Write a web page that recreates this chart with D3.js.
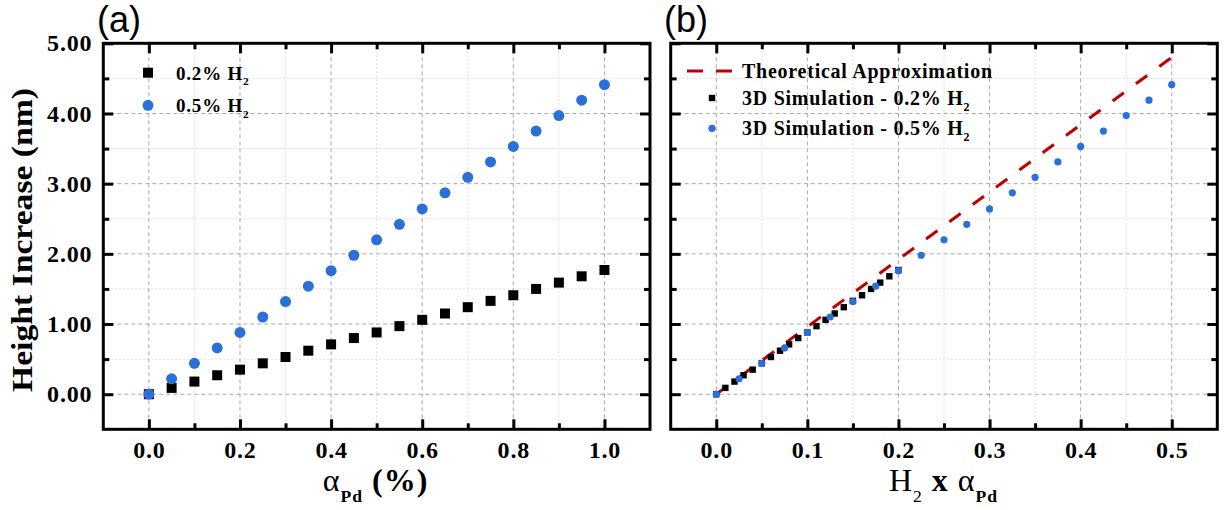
<!DOCTYPE html>
<html>
<head>
<meta charset="utf-8">
<script src="https://cdn.jsdelivr.net/npm/d3@7"></script>
<style>
  html, body { margin: 0; padding: 0; background: #fff; }
  svg { display: block; }
  .tick text { font-family: "Liberation Serif", "Times New Roman", serif; font-weight: bold; letter-spacing: 0.8px; }
</style>
</head>
<body>
<svg id="chart" width="1225" height="510"></svg>
<script>
// Pd loading (alpha_Pd, %) for every simulated point
const alphaPd = [0.00, 0.05, 0.10, 0.15, 0.20, 0.25, 0.30, 0.35, 0.40, 0.45, 0.50,
                 0.55, 0.60, 0.65, 0.70, 0.75, 0.80, 0.85, 0.90, 0.95, 1.00];
// height increase (nm) at 0.2% H2
const heightLow = [0.00, 0.09, 0.18, 0.27, 0.35, 0.44, 0.53, 0.62, 0.71, 0.80, 0.88,
                   0.97, 1.06, 1.15, 1.24, 1.33, 1.41, 1.50, 1.59, 1.68, 1.77];
// height increase (nm) at 0.5% H2
const heightHigh = [0.00, 0.22, 0.44, 0.66, 0.88, 1.10, 1.32, 1.54, 1.76, 1.98, 2.20,
                    2.42, 2.64, 2.87, 3.09, 3.31, 3.53, 3.75, 3.97, 4.19, 4.41];
// hydrogen concentrations (%) of the two series
const h2Low = 0.2;
const h2High = 0.5;
// theoretical approximation: end points of the straight line
const theoryX = [0.0, 0.5];
const theoryY = [0.0, 4.8];

// tick values
const yMajor = [0, 1, 2, 3, 4, 5];
const yMinor = [0.5, 1.5, 2.5, 3.5, 4.5];
const xMajorA = [0.0, 0.2, 0.4, 0.6, 0.8, 1.0];
const xMinorA = [0.1, 0.3, 0.5, 0.7, 0.9];
const xMajorB = [0.0, 0.1, 0.2, 0.3, 0.4, 0.5];
const xMinorB = [0.05, 0.15, 0.25, 0.35, 0.45];

const BLUE = "#2b6fd9";
const RED = "#c00000";
const SERIF = '"Liberation Serif", "Times New Roman", serif';

const svg = d3.select("#chart");
svg.append("rect").attr("width", 1225).attr("height", 510).attr("fill", "#fff");

const plotTop = 43.3, plotBottom = 429.3;
const y = d3.scaleLinear().domain([-0.5, 5.0]).range([plotBottom, plotTop]);
const xA = d3.scaleLinear().domain([-0.1, 1.1]).range([103.3, 650]);
const xB = d3.scaleLinear().domain([-0.05, 0.55]).range([670.7, 1217.3]);

function grid(g, x, xMajor, xMinor) {
  const [x0, x1] = x.range();
  const gg = g.append("g");
  // minor grid
  gg.selectAll(".vmin").data(xMinor).join("line")
    .attr("x1", d => x(d)).attr("x2", d => x(d)).attr("y1", plotTop).attr("y2", plotBottom)
    .attr("stroke", "#dcdcdc").attr("stroke-width", 1).attr("stroke-dasharray", "2,2");
  gg.selectAll(".hmin").data(yMinor).join("line")
    .attr("x1", x0).attr("x2", x1).attr("y1", d => y(d)).attr("y2", d => y(d))
    .attr("stroke", "#dcdcdc").attr("stroke-width", 1).attr("stroke-dasharray", "2,2");
  // major grid
  gg.selectAll(".vmaj").data(xMajor).join("line")
    .attr("x1", d => x(d)).attr("x2", d => x(d)).attr("y1", plotTop).attr("y2", plotBottom)
    .attr("stroke", "#a8a8a8").attr("stroke-width", 1).attr("stroke-dasharray", "4,3");
  gg.selectAll(".hmaj").data(yMajor.filter(v => v < 5)).join("line")
    .attr("x1", x0).attr("x2", x1).attr("y1", d => y(d)).attr("y2", d => y(d))
    .attr("stroke", "#a8a8a8").attr("stroke-width", 1).attr("stroke-dasharray", "4,3");
}

function frame(g, x, xMajor, xMinor, showY, xFmt) {
  const [x0, x1] = x.range();
  const style = sel => {
    sel.select(".domain").remove();
    sel.selectAll(".tick line").attr("stroke", "#000").attr("stroke-width", 3);
  };
  // bottom
  g.append("g").attr("transform", `translate(0,${plotBottom})`)
    .call(d3.axisBottom(x).tickValues(xMajor).tickSize(-10).tickPadding(12).tickFormat(d3.format(xFmt)))
    .call(style)
    .call(s => s.selectAll("text").attr("font-size", 24).attr("fill", "#000"));
  g.append("g").attr("transform", `translate(0,${plotBottom})`)
    .call(d3.axisBottom(x).tickValues(xMinor).tickSize(-6).tickFormat(""))
    .call(style);
  // top
  g.append("g").attr("transform", `translate(0,${plotTop})`)
    .call(d3.axisTop(x).tickValues(xMajor).tickSize(-10).tickFormat("")).call(style);
  g.append("g").attr("transform", `translate(0,${plotTop})`)
    .call(d3.axisTop(x).tickValues(xMinor).tickSize(-6).tickFormat("")).call(style);
  // left
  g.append("g").attr("transform", `translate(${x0},0)`)
    .call(d3.axisLeft(y).tickValues(yMajor).tickSize(-10).tickPadding(11)
      .tickFormat(showY ? d3.format(".2f") : ""))
    .call(style)
    .call(s => s.selectAll("text").attr("font-size", 24).attr("fill", "#000"));
  g.append("g").attr("transform", `translate(${x0},0)`)
    .call(d3.axisLeft(y).tickValues(yMinor).tickSize(-6).tickFormat("")).call(style);
  // right
  g.append("g").attr("transform", `translate(${x1},0)`)
    .call(d3.axisRight(y).tickValues(yMajor).tickSize(-10).tickFormat("")).call(style);
  g.append("g").attr("transform", `translate(${x1},0)`)
    .call(d3.axisRight(y).tickValues(yMinor).tickSize(-6).tickFormat("")).call(style);
  // box
  g.append("rect").attr("x", x0).attr("y", plotTop).attr("width", x1 - x0).attr("height", plotBottom - plotTop)
    .attr("fill", "none").attr("stroke", "#000").attr("stroke-width", 3);
}

// text with subscript parts: parts = [[text, isSub, weight], ...]
function richText(g, xPos, yPos, parts, size, opts) {
  const o = Object.assign({ anchor: "start", sub: 0.6, shift: 0.3, spacing: 0 }, opts || {});
  const t = g.append("text").attr("x", xPos).attr("y", yPos)
    .attr("font-family", SERIF).attr("font-weight", "bold").attr("font-size", size)
    .attr("letter-spacing", o.spacing)
    .attr("text-anchor", o.anchor).attr("fill", "#000");
  const shift = size * o.shift;
  parts.forEach(([s, sub, weight], i) => {
    const ts = t.append("tspan").text(s);
    if (weight) ts.attr("font-weight", weight);
    const prevSub = i > 0 && parts[i - 1][1];
    if (sub) ts.attr("font-size", size * o.sub).attr("dy", prevSub ? 0 : shift);
    else ts.attr("dy", prevSub ? -shift : 0);
  });
  return t;
}

// ---------- panel (a) ----------
const gA = svg.append("g");
grid(gA, xA, xMajorA, xMinorA);
const seriesA = alphaPd.map((a, i) => ({ a, lo: heightLow[i], hi: heightHigh[i] }));
gA.selectAll(".sqA").data(seriesA).join("rect")
  .attr("x", d => xA(d.a) - 5).attr("y", d => y(d.lo) - 5)
  .attr("width", 10).attr("height", 10).attr("fill", "#000");
gA.selectAll(".ciA").data(seriesA).join("circle")
  .attr("cx", d => xA(d.a)).attr("cy", d => y(d.hi)).attr("r", 5.5).attr("fill", BLUE);
frame(gA, xA, xMajorA, xMinorA, true, ".1f");

// legend (a)
gA.append("rect").attr("x", 143).attr("y", 67.7).attr("width", 10).attr("height", 10).attr("fill", "#000");
gA.append("circle").attr("cx", 148).attr("cy", 105.3).attr("r", 5.5).attr("fill", BLUE);
richText(gA, 176, 79.5, [["0.2% H", false], ["2", true]], 19, { spacing: 0.8 });
richText(gA, 176, 112, [["0.5% H", false], ["2", true]], 19, { spacing: 0.8 });

// ---------- panel (b) ----------
const gB = svg.append("g");
grid(gB, xB, xMajorB, xMinorB);
const line = d3.line().x(d => xB(d[0])).y(d => y(d[1]));
gB.append("path").datum(theoryX.map((v, i) => [v, theoryY[i]]))
  .attr("d", line).attr("fill", "none").attr("stroke", RED)
  .attr("stroke-width", 3).attr("stroke-dasharray", "14,15");
gB.selectAll(".sqB").data(seriesA).join("rect")
  .attr("x", d => xB(h2Low * d.a) - 3.2).attr("y", d => y(d.lo) - 3.2)
  .attr("width", 6.4).attr("height", 6.4).attr("fill", "#000");
gB.selectAll(".ciB").data(seriesA).join("circle")
  .attr("cx", d => xB(h2High * d.a)).attr("cy", d => y(d.hi)).attr("r", 3.6).attr("fill", BLUE);
frame(gB, xB, xMajorB, xMinorB, false, ".1f");

// legend (b)
gB.append("line").attr("x1", 687).attr("x2", 732).attr("y1", 71).attr("y2", 71)
  .attr("stroke", RED).attr("stroke-width", 3).attr("stroke-dasharray", "16,13");
gB.append("rect").attr("x", 708.8).attr("y", 94.8).attr("width", 6.4).attr("height", 6.4).attr("fill", "#000");
gB.append("circle").attr("cx", 712).attr("cy", 128.3).attr("r", 3.6).attr("fill", BLUE);
richText(gB, 742, 77.5, [["Theoretical Approximation", false]], 20, { spacing: 0.75 });
richText(gB, 742, 105, [["3D Simulation - 0.2% H", false], ["2", true]], 20, { spacing: 0.75 });
richText(gB, 742, 135, [["3D Simulation - 0.5% H", false], ["2", true]], 20, { spacing: 0.75 });

// ---------- titles ----------
svg.append("text").attr("x", 97).attr("y", 32)
  .attr("font-family", '"Liberation Sans", Arial, sans-serif').attr("font-size", 36)
  .attr("fill", "#000").text("(a)");
svg.append("text").attr("x", 664).attr("y", 32)
  .attr("font-family", '"Liberation Sans", Arial, sans-serif').attr("font-size", 36)
  .attr("fill", "#000").text("(b)");

svg.append("text")
  .attr("transform", "translate(32,240) rotate(-90)")
  .attr("text-anchor", "middle")
  .attr("font-family", SERIF).attr("font-weight", "bold").attr("font-size", 30)
  .attr("textLength", 304).attr("lengthAdjust", "spacingAndGlyphs")
  .attr("fill", "#000").text("Height Increase (nm)");

richText(svg, 375.5, 491, [["α", false, "normal"], ["Pd", true], [" (%)", false]], 32,
  { anchor: "middle", sub: 0.55, shift: 0.33, spacing: 1 });
richText(svg, 943.5, 491, [["H", false, "normal"], ["2", true, "normal"], [" x ", false], ["α", false, "normal"], ["Pd", true]], 32,
  { anchor: "middle", sub: 0.55, shift: 0.33, spacing: 1 });
</script>
</body>
</html>
